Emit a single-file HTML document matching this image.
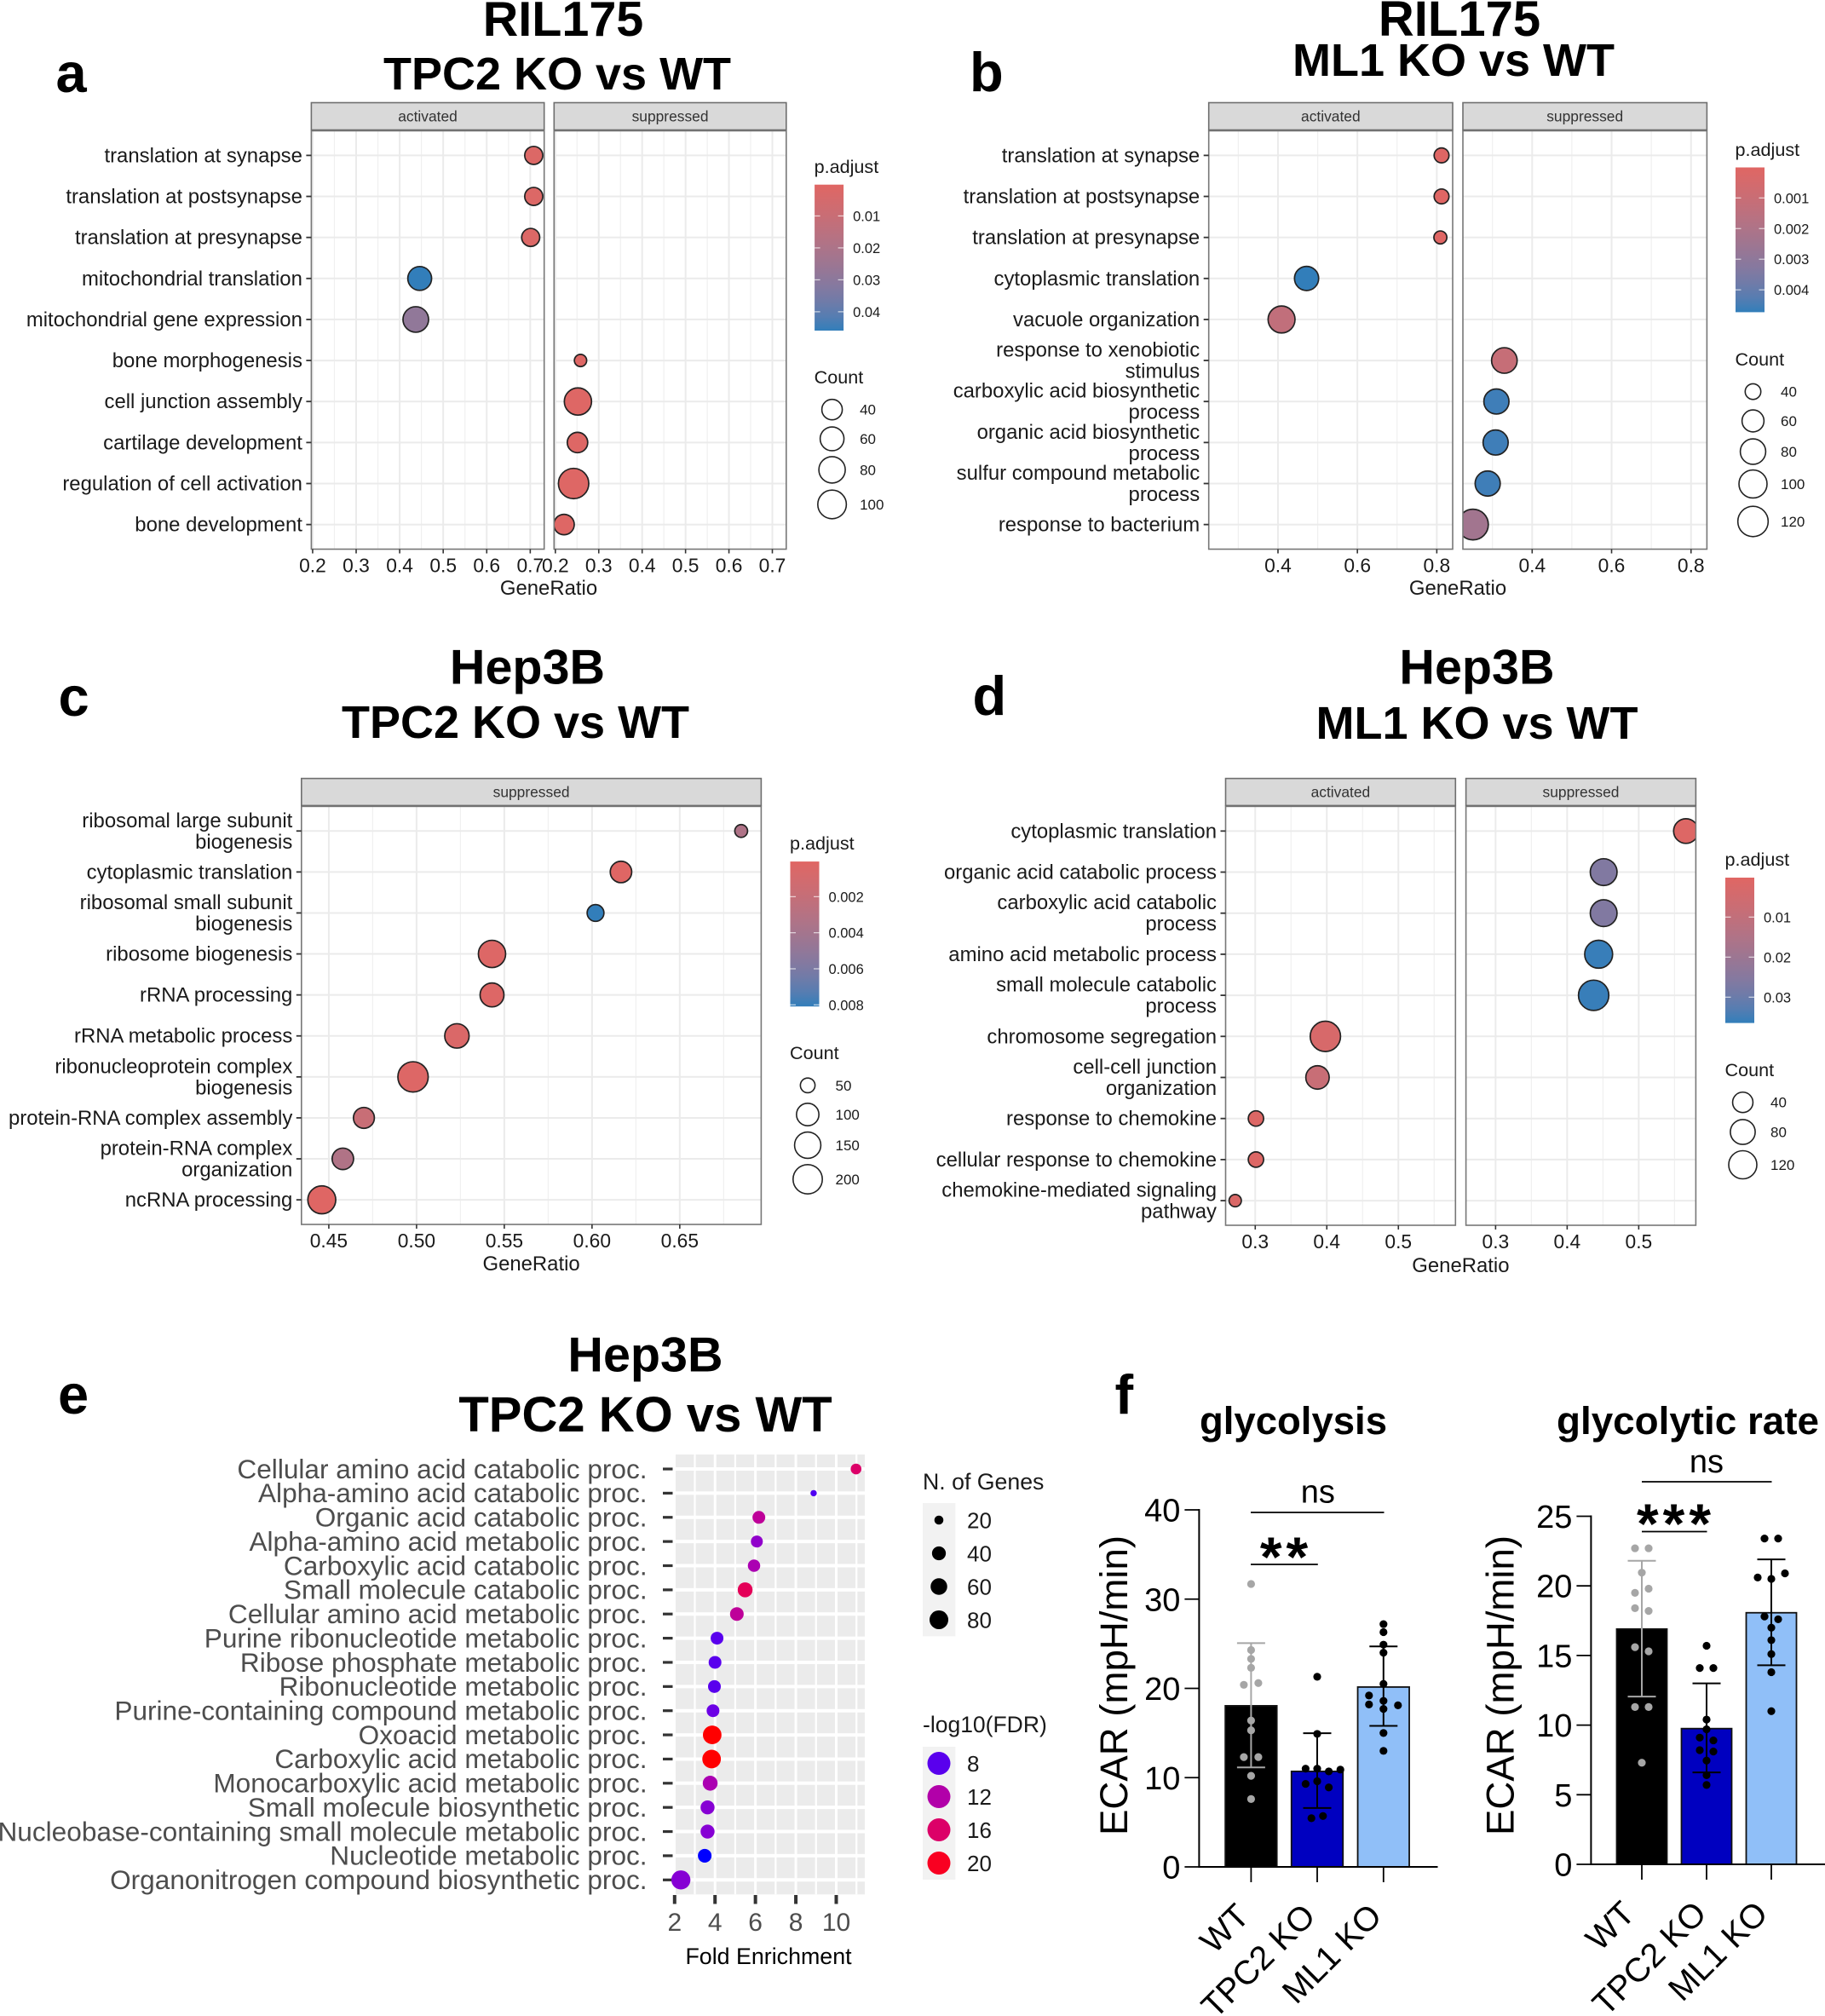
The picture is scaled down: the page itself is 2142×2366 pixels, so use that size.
<!DOCTYPE html>
<html lang="en">
<head>
<meta charset="utf-8">
<title>RIL175 and Hep3B enrichment and ECAR figure</title>
<style>
html,body{margin:0;padding:0;background:#fff;}
svg{display:block;font-family:"Liberation Sans",Arial,sans-serif;}
.ttl{font-weight:700;fill:#000;text-anchor:middle;}
.ltr{font-weight:700;fill:#000;font-size:65px;}
</style>
</head>
<body>
<svg id="fig" xmlns="http://www.w3.org/2000/svg" width="2142" height="2366" viewBox="0 0 2142 2366">
  <defs id="defs"></defs>
  <rect x="0" y="0" width="2142" height="2366" fill="#fff"/>

  <text class="ltr" x="65.5" y="108">a</text>
  <text class="ltr" x="1138" y="107">b</text>
  <text class="ltr" x="68.5" y="840">c</text>
  <text class="ltr" x="1141.5" y="839">d</text>
  <text class="ltr" x="68" y="1659">e</text>
  <text class="ltr" x="1308.5" y="1659">f</text>

  <text class="ttl" x="661" y="42" font-size="57.5">RIL175</text>
  <text class="ttl" x="654" y="105" font-size="54">TPC2 KO vs WT</text>
  <text class="ttl" x="1713" y="42" font-size="58">RIL175</text>
  <text class="ttl" x="1706" y="89" font-size="54">ML1 KO vs WT</text>
  <text class="ttl" x="619" y="802.5" font-size="57.5">Hep3B</text>
  <text class="ttl" x="605" y="866" font-size="54">TPC2 KO vs WT</text>
  <text class="ttl" x="1733.5" y="802.5" font-size="57.5">Hep3B</text>
  <text class="ttl" x="1733.5" y="867" font-size="54">ML1 KO vs WT</text>
  <text class="ttl" x="757.5" y="1609.5" font-size="57.5">Hep3B</text>
  <text class="ttl" x="757.5" y="1680" font-size="58">TPC2 KO vs WT</text>
  <text class="ttl" x="1518" y="1683" font-size="45.5">glycolysis</text>
  <text class="ttl" x="1981" y="1683" font-size="45.8">glycolytic rate</text>
</svg>

<script>
/* ---------- Panel a data ---------- */
const aTerms = ["translation at synapse","translation at postsynapse","translation at presynapse","mitochondrial translation","mitochondrial gene expression","bone morphogenesis","cell junction assembly","cartilage development","regulation of cell activation","bone development"];
const aFacetOf = [0,0,0,0,0,1,1,1,1,1];
const aRatio = [0.708,0.708,0.701,0.446,0.437,0.258,0.252,0.251,0.242,0.220];
const aCount = [30,30,30,60,73,20,87,40,118,40];
const aPadj = [0.002,0.002,0.002,0.0459,0.0285,0.001,0.001,0.001,0.001,0.001];
const aXTicks = [0.2,0.3,0.4,0.5,0.6,0.7];
const aPadjTicks = [0.01,0.02,0.03,0.04];
const aCountTicks = [40,60,80,100];

/* ---------- Panel b data ---------- */
const bTerms = ["translation at synapse","translation at postsynapse","translation at presynapse","cytoplasmic translation","vacuole organization","response to xenobiotic|stimulus","carboxylic acid biosynthetic|process","organic acid biosynthetic|process","sulfur compound metabolic|process","response to bacterium"];
const bFacetOf = [0,0,0,0,0,1,1,1,1,1];
const bRatio = [0.812,0.812,0.809,0.472,0.409,0.330,0.310,0.308,0.288,0.251];
const bCount = [39,39,38,72,91,81,78,78,78,123];
const bPadj = [0.00005,0.00005,0.00005,0.00473,0.0013,0.0011,0.0046,0.0046,0.0046,0.0024];
const bXTicks = [0.4,0.6,0.8];
const bPadjTicks = [0.001,0.002,0.003,0.004];
const bCountTicks = [40,60,80,100,120];

/* ---------- Panel c data ---------- */
const cTerms = ["ribosomal large subunit|biogenesis","cytoplasmic translation","ribosomal small subunit|biogenesis","ribosome biogenesis","rRNA processing","rRNA metabolic process","ribonucleoprotein complex|biogenesis","protein-RNA complex assembly","protein-RNA complex|organization","ncRNA processing"];
const cFacetOf = [0,0,0,0,0,0,0,0,0,0];
const cRatio = [0.685,0.6165,0.602,0.543,0.543,0.523,0.498,0.470,0.458,0.446];
const cCount = [48,90,57,165,117,123,220,85,90,176];
const cPadj = [0.0034,0.0001,0.0081,0.0003,0.0003,0.0005,0.0003,0.0018,0.0033,0.0001];
const cXTicks = [0.45,0.50,0.55,0.60,0.65];
const cPadjTicks = [0.002,0.004,0.006,0.008];
const cCountTicks = [50,100,150,200];

/* ---------- Panel d data ---------- */
const dTerms = ["cytoplasmic translation","organic acid catabolic process","carboxylic acid catabolic|process","amino acid metabolic process","small molecule catabolic|process","chromosome segregation","cell-cell junction|organization","response to chemokine","cellular response to chemokine","chemokine-mediated signaling|pathway"];
const dFacetOf = [1,1,1,1,1,0,0,0,0,0];
const dRatio = [0.566,0.451,0.451,0.444,0.437,0.398,0.387,0.301,0.301,0.272];
const dCount = [78,102,102,117,152,152,65,16,16,12];
const dPadj = [0.001,0.026,0.026,0.036,0.036,0.003,0.008,0.001,0.001,0.002];
const dXTicks = [0.3,0.4,0.5];
const dPadjTicks = [0.01,0.02,0.03];
const dCountTicks = [40,80,120];

/* ---------- Panel e data ---------- */
const eTerms = ["Cellular amino acid catabolic proc.","Alpha-amino acid catabolic proc.","Organic acid catabolic proc.","Alpha-amino acid metabolic proc.","Carboxylic acid catabolic proc.","Small molecule catabolic proc.","Cellular amino acid metabolic proc.","Purine ribonucleotide metabolic proc.","Ribose phosphate metabolic proc.","Ribonucleotide metabolic proc.","Purine-containing compound metabolic proc.","Oxoacid metabolic proc.","Carboxylic acid metabolic proc.","Monocarboxylic acid metabolic proc.","Small molecule biosynthetic proc.","Nucleobase-containing small molecule metabolic proc.","Nucleotide metabolic proc.","Organonitrogen compound biosynthetic proc."];
const eFold = [10.98,8.88,6.17,6.07,5.93,5.49,5.08,4.10,4.00,3.97,3.90,3.86,3.83,3.76,3.63,3.63,3.49,2.31];
const eGenes = [25,17,34,30,32,47,39,34,34,34,34,78,78,47,41,41,39,83];
const eFdr = [16,7.8,13,10,11.5,17,13,8,8,8,8.5,21,21,11.5,9.5,9.5,7,9.5];
const eXTicks = [2,4,6,8,10];
const eGeneTicks = [20,40,60,80];
const eFdrTicks = [8,12,16,20];

/* ---------- Panel f data ---------- */
const fGroups = ["WT","TPC2 KO","ML1 KO"];
const glycolysisMeans = [18.05,10.7,20.15];
const glycolysisUpper = [25.07,14.98,24.7];
const glycolysisLower = [11.15,6.6,15.8];
const glycolysisWt = [31.7,24.3,23.3,22.3,20.4,20.6,16.4,15.3,12.3,12.3,10.2,7.6];
const glycolysisTpc2 = [21.3,14.9,11.0,11.0,10.7,10.9,9.3,9.6,8.9,5.45,5.7];
const glycolysisMl1 = [27.2,26.3,24.9,24.0,20.5,19.2,18.6,18.2,18.1,17.7,15.0,13.0];
const glycolysisTicks = [0,10,20,30,40];
const rateMeans = [16.9,9.75,18.07];
const rateUpper = [21.8,13.0,21.9];
const rateLower = [12.05,6.6,14.3];
const rateWt = [22.7,22.7,20.95,19.5,19.8,18.4,18.2,15.6,15.3,11.3,11.3,7.3];
const rateTpc2 = [15.7,14.1,14.1,10.4,9.7,9.1,8.9,8.2,8.1,7.45,6.4,5.7];
const rateMl1 = [23.4,23.4,20.9,20.6,20.5,17.8,17.6,17.0,16.1,15.1,13.8,11.0];
const rateTicks = [0,5,10,15,20,25];

/* ---------- helpers ---------- */
const NS = 'http://www.w3.org/2000/svg';
const fig = document.getElementById('fig');
const defs = document.getElementById('defs');

function el(parent, tag, attrs, name) {
  const node = document.createElementNS(NS, tag);
  for (const k in attrs) node.setAttribute(k, attrs[k]);
  
  
  parent.appendChild(node);
  return node;
}
function txt(parent, str, x, y, size, fill, anchor, name, extra) {
  const attrs = Object.assign({x: x, y: y, 'font-size': size, fill: fill, 'text-anchor': anchor}, extra || {});
  const node = el(parent, 'text', attrs, name);
  node.textContent = str;
  return node;
}
function slug(s) { return String(s).toLowerCase().replace(/[^a-z0-9]+/g, '-').replace(/^-|-$/g, ''); }
function linear(d0, d1, r0, r1) { return v => r0 + (v - d0) * (r1 - r0) / (d1 - d0); }
function areaRadius(c0, c1, r0, r1) {
  return c => r0 + (r1 - r0) * Math.sqrt(Math.max(0, Math.min(1, (c - c0) / (c1 - c0))));
}
function hexToLab(h) {
  const c = [1, 3, 5].map(i => parseInt(h.substr(i, 2), 16) / 255).map(v => v > 0.04045 ? Math.pow((v + 0.055) / 1.055, 2.4) : v / 12.92);
  const X = (0.4124 * c[0] + 0.3576 * c[1] + 0.1805 * c[2]) / 0.95047;
  const Y = 0.2126 * c[0] + 0.7152 * c[1] + 0.0722 * c[2];
  const Z = (0.0193 * c[0] + 0.1192 * c[1] + 0.9505 * c[2]) / 1.08883;
  const f = t => t > 0.008856 ? Math.cbrt(t) : 7.787 * t + 16 / 116;
  return [116 * f(Y) - 16, 500 * (f(X) - f(Y)), 200 * (f(Y) - f(Z))];
}
function labToHex(l) {
  const fy = (l[0] + 16) / 116, fx = l[1] / 500 + fy, fz = fy - l[2] / 200;
  const g = t => t * t * t > 0.008856 ? t * t * t : (t - 16 / 116) / 7.787;
  const X = g(fx) * 0.95047, Y = g(fy), Z = g(fz) * 1.08883;
  const lin = [3.2406 * X - 1.5372 * Y - 0.4986 * Z, -0.9689 * X + 1.8758 * Y + 0.0415 * Z, 0.0557 * X - 0.2040 * Y + 1.0570 * Z];
  return '#' + lin.map(v => {
    v = Math.max(0, Math.min(1, v));
    v = v > 0.0031308 ? 1.055 * Math.pow(v, 1 / 2.4) - 0.055 : 12.92 * v;
    return ('0' + Math.round(v * 255).toString(16)).slice(-2);
  }).join('');
}
function colorRamp(hexA, hexB, d0, d1) {
  const a = hexToLab(hexA), b = hexToLab(hexB);
  return v => {
    const t = Math.max(0, Math.min(1, (v - d0) / (d1 - d0)));
    return labToHex([0, 1, 2].map(i => a[i] + (b[i] - a[i]) * t));
  };
}

/* ---------- GSEA dot panels (a-d) ---------- */
function drawDotChart(cfg) {
  const g = el(fig, 'g', {}, cfg.id + '-dotplot');
  const step = (cfg.bottom - cfg.top) / (cfg.terms.length - 1 + 1.2);
  const rowY = i => cfg.top + (0.6 + i) * step;
  const color = colorRamp('#e06663', '#327eba', cfg.padjDomain[0], cfg.padjDomain[1]);
  const radius = areaRadius(cfg.countDomain[0], cfg.countDomain[1], cfg.radiusRange[0], cfg.radiusRange[1]);
  const tickGap = cfg.xTicks[1] - cfg.xTicks[0];

  cfg.facets.forEach((facet, fi) => {
    const fg = el(g, 'g', {}, cfg.id + '-facet-' + slug(facet.label));
    const x = linear(cfg.xDomain[0], cfg.xDomain[1], facet.left, facet.right);
    facet.x = x;
    const w = facet.right - facet.left;
    el(fg, 'rect', {x: facet.left, y: cfg.top, width: w, height: cfg.bottom - cfg.top, fill: '#fff'}, 'panel-background');
    const minors = [cfg.xTicks[0] - tickGap / 2].concat(cfg.xTicks.map(t => t + tickGap / 2));
    minors.forEach(t => {
      if (t < cfg.xDomain[0] || t > cfg.xDomain[1]) return;
      el(fg, 'line', {x1: x(t), x2: x(t), y1: cfg.top, y2: cfg.bottom, stroke: '#f0f0f0', 'stroke-width': 1.2}, 'minor-gridline');
    });
    cfg.xTicks.forEach(t => {
      el(fg, 'line', {x1: x(t), x2: x(t), y1: cfg.top, y2: cfg.bottom, stroke: '#ebebeb', 'stroke-width': 2}, 'major-gridline');
    });
    cfg.terms.forEach((term, i) => {
      el(fg, 'line', {x1: facet.left, x2: facet.right, y1: rowY(i), y2: rowY(i), stroke: '#ebebeb', 'stroke-width': 2}, 'row-gridline');
    });
    const clipId = cfg.id + '-clip-' + fi;
    const clip = el(defs, 'clipPath', {id: clipId}, 'panel-clip');
    el(clip, 'rect', {x: facet.left, y: cfg.top, width: w, height: cfg.bottom - cfg.top}, 'panel-clip-rect');
    const pts = el(fg, 'g', {'clip-path': 'url(#' + clipId + ')'}, 'points');
    cfg.terms.forEach((term, i) => {
      if (cfg.facetOf[i] !== fi) return;
      el(pts, 'circle', {cx: x(cfg.ratio[i]), cy: rowY(i), r: radius(cfg.count[i]), fill: color(cfg.padj[i]), stroke: '#222', 'stroke-width': 1.7}, 'point-' + slug(term));
    });
    el(fg, 'rect', {x: facet.left, y: cfg.top, width: w, height: cfg.bottom - cfg.top, fill: 'none', stroke: '#777', 'stroke-width': 1.6}, 'panel-border');
    el(fg, 'rect', {x: facet.left, y: cfg.stripTop, width: w, height: cfg.top - cfg.stripTop - 1, fill: '#d9d9d9', stroke: '#6e6e6e', 'stroke-width': 1.6}, 'strip-' + slug(facet.label));
    txt(fg, facet.label, (facet.left + facet.right) / 2, (cfg.stripTop + cfg.top) / 2 + 5.5, 17.4, '#333', 'middle', 'strip-label-' + slug(facet.label));
    cfg.xTicks.forEach(t => {
      el(fg, 'line', {x1: x(t), x2: x(t), y1: cfg.bottom, y2: cfg.bottom + 5, stroke: '#333', 'stroke-width': 1.6}, 'x-tick');
      const label = cfg.xTicks.length === 5 && cfg.id === 'c' ? t.toFixed(2) : t.toFixed(1);
      txt(fg, label, x(t), cfg.bottom + 27, 22.8, '#1a1a1a', 'middle', 'x-tick-label');
    });
  });

  const left = cfg.facets[0].left;
  cfg.terms.forEach((term, i) => {
    el(g, 'line', {x1: left - 6, x2: left, y1: rowY(i), y2: rowY(i), stroke: '#333', 'stroke-width': 1.8}, 'y-tick');
    const lines = term.split('|');
    lines.forEach((ln, k) => {
      const y = rowY(i) + (k - (lines.length - 1) / 2) * 25 + 8;
      txt(g, ln, left - 10.5, y, 23.9, '#1a1a1a', 'end', 'y-label-' + slug(ln));
    });
  });
  txt(g, 'GeneRatio', cfg.xTitle[0], cfg.xTitle[1], 23.9, '#1a1a1a', 'middle', 'x-axis-title');

  /* colour legend */
  const L = cfg.legend;
  const lg = el(g, 'g', {}, 'p-adjust-legend');
  txt(lg, 'p.adjust', L.x, L.titleY, 21.6, '#1a1a1a', 'start', 'p-adjust-legend-title');
  const gid = cfg.id + '-grad';
  const grad = el(defs, 'linearGradient', {id: gid, x1: 0, y1: 0, x2: 0, y2: 1}, 'p-adjust-gradient');
  for (let s = 0; s <= 10; s++) {
    const v = cfg.padjDomain[0] + (cfg.padjDomain[1] - cfg.padjDomain[0]) * s / 10;
    el(grad, 'stop', {offset: s / 10, 'stop-color': color(v)}, 'gradient-stop');
  }
  el(lg, 'rect', {x: L.x + 0.5, y: L.barTop, width: 34, height: L.barBottom - L.barTop, fill: 'url(#' + gid + ')'}, 'p-adjust-colorbar');
  const py = linear(cfg.padjDomain[0], cfg.padjDomain[1], L.barTop, L.barBottom);
  cfg.padjTicks.forEach(t => {
    el(lg, 'line', {x1: L.x + 0.5, x2: L.x + 7, y1: py(t), y2: py(t), stroke: '#fff', 'stroke-opacity': 0.7, 'stroke-width': 1.2}, 'colorbar-tick');
    el(lg, 'line', {x1: L.x + 28, x2: L.x + 34.5, y1: py(t), y2: py(t), stroke: '#fff', 'stroke-opacity': 0.7, 'stroke-width': 1.2}, 'colorbar-tick');
    txt(lg, String(t), L.x + 45.5, py(t) + 6, 16.5, '#1a1a1a', 'start', 'colorbar-label');
  });

  /* size legend */
  const sg = el(g, 'g', {}, 'count-legend');
  txt(sg, 'Count', L.x, L.countTitleY, 21.6, '#1a1a1a', 'start', 'count-legend-title');
  cfg.countTicks.forEach((c, i) => {
    el(sg, 'circle', {cx: L.x + 21, cy: L.countY[i], r: radius(c), fill: '#fff', stroke: '#222', 'stroke-width': 1.6}, 'count-key-' + c);
    txt(sg, String(c), L.x + 53.5, L.countY[i] + 6, 17, '#1a1a1a', 'start', 'count-label-' + c);
  });
}

drawDotChart({
  id: 'a', terms: aTerms, facetOf: aFacetOf, ratio: aRatio, count: aCount, padj: aPadj,
  xTicks: aXTicks, padjTicks: aPadjTicks, countTicks: aCountTicks,
  xDomain: [0.197, 0.732], padjDomain: [0.0002, 0.0459], countDomain: [20, 118], radiusRange: [7.2, 17.8],
  stripTop: 120.5, top: 153.5, bottom: 644.5,
  facets: [{label: 'activated', left: 365.4, right: 638.7}, {label: 'suppressed', left: 650.3, right: 922.8}],
  xTitle: [644, 698],
  legend: {x: 955.6, titleY: 203, barTop: 216.7, barBottom: 388, countTitleY: 450, countY: [480.7, 515, 551.4, 592]}
});
drawDotChart({
  id: 'b', terms: bTerms, facetOf: bFacetOf, ratio: bRatio, count: bCount, padj: bPadj,
  xTicks: bXTicks, padjTicks: bPadjTicks, countTicks: bCountTicks,
  xDomain: [0.2256, 0.84], padjDomain: [0.000004, 0.00473], countDomain: [38, 123], radiusRange: [7.6, 18],
  stripTop: 120.5, top: 153.5, bottom: 644.5,
  facets: [{label: 'activated', left: 1418.7, right: 1705}, {label: 'suppressed', left: 1717, right: 2003.4}],
  xTitle: [1711, 698],
  legend: {x: 2036.5, titleY: 183, barTop: 196.5, barBottom: 366.4, countTitleY: 429, countY: [459.6, 494, 530, 568, 612]}
});
drawDotChart({
  id: 'c', terms: cTerms, facetOf: cFacetOf, ratio: cRatio, count: cCount, padj: cPadj,
  xTicks: cXTicks, padjTicks: cPadjTicks, countTicks: cCountTicks,
  xDomain: [0.4344, 0.6964], padjDomain: [0.00005, 0.00809], countDomain: [48, 220], radiusRange: [7.5, 17.8],
  stripTop: 913.6, top: 946.4, bottom: 1437,
  facets: [{label: 'suppressed', left: 353.8, right: 893.4}],
  xTitle: [623.6, 1491],
  legend: {x: 927, titleY: 997, barTop: 1011.1, barBottom: 1181.2, countTitleY: 1243, countY: [1273.8, 1308, 1344, 1384]}
});
drawDotChart({
  id: 'd', terms: dTerms, facetOf: dFacetOf, ratio: dRatio, count: dCount, padj: dPadj,
  xTicks: dXTicks, padjTicks: dPadjTicks, countTicks: dCountTicks,
  xDomain: [0.2586, 0.5798], padjDomain: [0.00015, 0.03645], countDomain: [12, 152], radiusRange: [7.2, 17.8],
  stripTop: 913.6, top: 946.4, bottom: 1438,
  facets: [{label: 'activated', left: 1438.5, right: 1708.3}, {label: 'suppressed', left: 1720.6, right: 1990.4}],
  xTitle: [1714.4, 1493],
  legend: {x: 2024.5, titleY: 1016, barTop: 1030, barBottom: 1200.6, countTitleY: 1263, countY: [1293.7, 1328.5, 1367]}
});

/* ---------- Panel e ---------- */
(function drawEnrichment() {
  const g = el(fig, 'g', {}, 'e-enrichment-plot');
  const left = 793, right = 1015, top = 1707, bottom = 2223.3;
  const xAxis = linear(2, 10, 791.8, 981.5);
  const step = (bottom - top) / (eTerms.length - 1 + 1.2);
  const rowY = i => top + (0.6 + i) * step;
  const r = areaRadius(17, 83, 3.7, 11.2);
  const color = colorRamp('#0000ff', '#ff0000', 7, 21);

  el(g, 'rect', {x: left, y: top, width: right - left, height: bottom - top, fill: '#ebebeb'}, 'e-panel-background');
  [3, 5, 7, 9, 11].forEach(t => {
    el(g, 'line', {x1: xAxis(t), x2: xAxis(t), y1: top, y2: bottom, stroke: '#fff', 'stroke-width': 2.2}, 'e-minor-gridline');
  });
  eXTicks.forEach(t => {
    if (t === 2) return;
    el(g, 'line', {x1: xAxis(t), x2: xAxis(t), y1: top, y2: bottom, stroke: '#fff', 'stroke-width': 3}, 'e-major-gridline');
  });
  eTerms.forEach((term, i) => {
    el(g, 'line', {x1: left, x2: right, y1: rowY(i), y2: rowY(i), stroke: '#fff', 'stroke-width': 4}, 'e-row-gridline');
  });
  eTerms.forEach((term, i) => {
    el(g, 'rect', {x: 778, y: rowY(i) - 1.6, width: 11.5, height: 3.2, fill: '#333'}, 'e-y-tick');
    txt(g, term, 759.6, rowY(i) + 10.8, 31.6, '#4d4d4d', 'end', 'e-y-label-' + slug(term));
  });
  eTerms.forEach((term, i) => {
    el(g, 'circle', {cx: xAxis(eFold[i]), cy: rowY(i), r: r(eGenes[i]), fill: color(eFdr[i])}, 'e-point-' + slug(term));
  });
  eXTicks.forEach(t => {
    el(g, 'rect', {x: xAxis(t) - 2, y: 2224, width: 4, height: 10.5, fill: '#333'}, 'e-x-tick');
    txt(g, String(t), xAxis(t), 2266, 30, '#4d4d4d', 'middle', 'e-x-tick-label');
  });
  txt(g, 'Fold Enrichment', 902, 2305, 26.8, '#000', 'middle', 'e-x-axis-title');

  txt(g, 'N. of Genes', 1083, 1748, 26.7, '#1a1a1a', 'start', 'n-genes-legend-title');
  el(g, 'rect', {x: 1083, y: 1764, width: 38.4, height: 156.4, fill: '#f2f2f2'}, 'n-genes-legend-keys');
  eGeneTicks.forEach((c, i) => {
    const y = 1784 + i * 39;
    el(g, 'circle', {cx: 1102, cy: y, r: r(c), fill: '#000'}, 'n-genes-key-' + c);
    txt(g, String(c), 1135, y + 9.5, 26, '#1a1a1a', 'start', 'n-genes-label-' + c);
  });
  txt(g, '-log10(FDR)', 1083, 2033, 26.5, '#1a1a1a', 'start', 'fdr-legend-title');
  el(g, 'rect', {x: 1083, y: 2050, width: 38.4, height: 156, fill: '#f2f2f2'}, 'fdr-legend-keys');
  eFdrTicks.forEach((c, i) => {
    const y = 2069.5 + i * 39;
    el(g, 'circle', {cx: 1102, cy: y, r: 13.5, fill: color(c)}, 'fdr-key-' + c);
    txt(g, String(c), 1135, y + 9.5, 26, '#1a1a1a', 'start', 'fdr-label-' + c);
  });
})();

/* ---------- Panel f bar charts ---------- */
function drawBars(cfg) {
  const g = el(fig, 'g', {}, cfg.id + '-bar-chart');
  const y = linear(cfg.yMin, cfg.yMax, cfg.y0, cfg.y1);
  const barFill = ['#000000', '#0000c0', '#90bff8'];
  const dotFill = ['#a6a6a6', '#000000', '#000000'];
  fGroups.forEach((name, i) => {
    const cx = cfg.centers[i];
    el(g, 'rect', {x: cx - cfg.barW / 2, y: y(cfg.means[i]), width: cfg.barW, height: y(0) - y(cfg.means[i]), fill: barFill[i], stroke: '#111', 'stroke-width': 1.8}, 'bar-' + slug(name));
    cfg.points[i].forEach((v, k) => {
      el(g, 'circle', {cx: cx + cfg.swarm[i][k] * cfg.unit, cy: y(v), r: 4.6, fill: dotFill[i]}, 'point-' + slug(name));
    });
    const top = y(cfg.upper[i]), bot = y(cfg.lower[i]);
    el(g, 'line', {x1: cx, x2: cx, y1: top, y2: bot, stroke: dotFill[i], 'stroke-width': 2}, 'error-bar-' + slug(name));
    el(g, 'line', {x1: cx - 16.5, x2: cx + 16.5, y1: top, y2: top, stroke: dotFill[i], 'stroke-width': 2}, 'error-cap-upper-' + slug(name));
    el(g, 'line', {x1: cx - 16.5, x2: cx + 16.5, y1: bot, y2: bot, stroke: dotFill[i], 'stroke-width': 2}, 'error-cap-lower-' + slug(name));
    el(g, 'line', {x1: cx, x2: cx, y1: y(0), y2: y(0) + 18, stroke: '#000', 'stroke-width': 1.8}, 'x-tick-' + slug(name));
    const tx = cx + cfg.labelShift[i];
    txt(g, name, 0, 0, 39.5, '#000', 'end', 'x-label-' + slug(name), {transform: 'translate(' + tx + ',' + (y(0) + 60) + ') rotate(-45)'});
  });
  el(g, 'line', {x1: cfg.axisX, x2: cfg.axisX, y1: y(cfg.yMax) - 1, y2: y(0) + 1, stroke: '#000', 'stroke-width': 2}, 'y-axis-line');
  el(g, 'line', {x1: cfg.axisX, x2: cfg.axisEnd, y1: y(0), y2: y(0), stroke: '#000', 'stroke-width': 2}, 'x-axis-line');
  cfg.ticks.forEach(t => {
    el(g, 'line', {x1: cfg.axisX - 17, x2: cfg.axisX, y1: y(t), y2: y(t), stroke: '#000', 'stroke-width': 1.8}, 'y-tick');
    txt(g, String(t), cfg.axisX - 22, y(t) + 13.5, 38, '#000', 'end', 'y-tick-label');
  });
  txt(g, 'ECAR (mpH/min)', 0, 0, 45.6, '#000', 'middle', 'y-axis-title', {transform: 'translate(' + cfg.yTitleX + ',1978) rotate(-90)'});
  cfg.brackets.forEach(b => {
    el(g, 'line', {x1: b.x1, x2: b.x2, y1: b.y, y2: b.y, stroke: '#000', 'stroke-width': 1.8}, 'significance-line-' + slug(b.name));
    const extra = b.bold ? {'font-weight': 700, 'letter-spacing': b.spacing} : {};
    txt(g, b.label, b.cx, b.ty, b.size, '#000', 'middle', 'significance-label-' + slug(b.name), extra);
  });
}
drawBars({
  id: 'glycolysis', yMin: 0, yMax: 40, y0: 2191, y1: 1772, axisX: 1407.4, axisEnd: 1687.5, barW: 60.5, yTitleX: 1323,
  centers: [1468.4, 1546, 1623.8], labelShift: [0, 0, 0], unit: 8.5,
  means: glycolysisMeans, upper: glycolysisUpper, lower: glycolysisLower, ticks: glycolysisTicks,
  points: [glycolysisWt, glycolysisTpc2, glycolysisMl1],
  swarm: [[0,0,0,0,-1,1,0,0,-1,1,0,0],[0,0,-1.6,0,1.6,3.2,-1.6,0,1.6,-0.8,0.8],[0,0,0,0,0,-2,0,-2,2,0,0,0]],
  brackets: [
    {name: 'ns', label: 'ns', x1: 1468, x2: 1624.5, y: 1775, cx: 1546.8, ty: 1763.5, size: 38},
    {name: 'wt-vs-tpc2', label: '**', x1: 1468, x2: 1546.8, y: 1836, cx: 1509.5, ty: 1850, size: 66, bold: true, spacing: 5}
  ]
});
drawBars({
  id: 'glycolytic-rate', yMin: 0, yMax: 25, y0: 2188, y1: 1779.5, axisX: 1867.4, axisEnd: 2142, barW: 59, yTitleX: 1776.3,
  centers: [1927, 2003, 2079], labelShift: [-6, 2, -2], unit: 8,
  means: rateMeans, upper: rateUpper, lower: rateLower, ticks: rateTicks,
  points: [rateWt, rateTpc2, rateMl1],
  swarm: [[-1,1,0,-1,1,-1,1,-1,1,-1,1,0],[0,-1,1,0,0,-1,1,-1,1,0,0,0],[-1,1,2,-2,0,-1,1,0,0,0,0,0]],
  brackets: [
    {name: 'ns', label: 'ns', x1: 1927, x2: 2079.5, y: 1739, cx: 2003, ty: 1728, size: 38},
    {name: 'wt-vs-tpc2', label: '***', x1: 1927, x2: 2003.5, y: 1797.5, cx: 1967, ty: 1811, size: 66, bold: true, spacing: 5}
  ]
});
</script>
</body>
</html>
